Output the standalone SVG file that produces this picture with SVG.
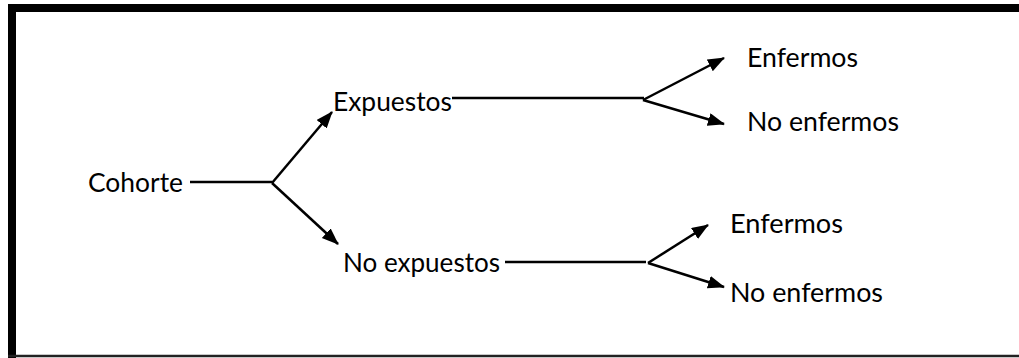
<svg xmlns="http://www.w3.org/2000/svg" width="1019" height="358" viewBox="0 0 1019 358">
  <defs>
    <marker id="arr" markerUnits="userSpaceOnUse" markerWidth="18" markerHeight="14" refX="16" refY="6.5" orient="auto">
      <path d="M0,0 L17,6.5 L0,13 z" fill="#000"/>
    </marker>
    <style>
      text { font-family: Lato, "Open Sans", "Liberation Sans", sans-serif; font-size: 26.5px; fill: #000; }
      .ln { stroke: #000; stroke-width: 2.5; fill: none; }
      .ar { stroke: #000; stroke-width: 2.5; fill: none; marker-end: url(#arr); }
    </style>
  </defs>
  <rect width="1019" height="358" fill="#fff"/>
  <g id="frame">
    <line x1="12" y1="8" x2="12" y2="358" stroke="#000" stroke-width="8"/>
    <line x1="8" y1="8" x2="1019" y2="8" stroke="#000" stroke-width="8"/>
    <line x1="8" y1="356" x2="1019" y2="356" stroke="#222" stroke-width="2.5"/>
  </g>
  <g id="connectors">
    <line class="ln" x1="190" y1="182" x2="272" y2="182"/>
    <line class="ar" x1="272" y1="183" x2="332" y2="112"/>
    <line class="ar" x1="272" y1="183" x2="338" y2="244"/>
    <line class="ln" x1="452" y1="98" x2="644" y2="98"/>
    <line class="ar" x1="643" y1="100" x2="724" y2="58"/>
    <line class="ar" x1="643" y1="100" x2="724" y2="124"/>
    <line class="ln" x1="505" y1="262" x2="646" y2="262"/>
    <line class="ar" x1="648" y1="263" x2="708" y2="225"/>
    <line class="ar" x1="648" y1="263" x2="724" y2="287"/>
  </g>
  <g id="cohorte"><text x="88" y="192" textLength="95" lengthAdjust="spacingAndGlyphs">Cohorte</text></g>
  <g id="expuestos"><text x="333" y="111" textLength="119" lengthAdjust="spacingAndGlyphs">Expuestos</text></g>
  <g id="no-expuestos"><text x="343" y="272" textLength="157" lengthAdjust="spacingAndGlyphs">No expuestos</text></g>
  <g id="enfermos-1"><text x="747" y="67" textLength="111" lengthAdjust="spacingAndGlyphs">Enfermos</text></g>
  <g id="no-enfermos-1"><text x="747" y="131" textLength="152" lengthAdjust="spacingAndGlyphs">No enfermos</text></g>
  <g id="enfermos-2"><text x="730" y="233" textLength="113" lengthAdjust="spacingAndGlyphs">Enfermos</text></g>
  <g id="no-enfermos-2"><text x="730" y="302" textLength="153" lengthAdjust="spacingAndGlyphs">No enfermos</text></g>
</svg>
